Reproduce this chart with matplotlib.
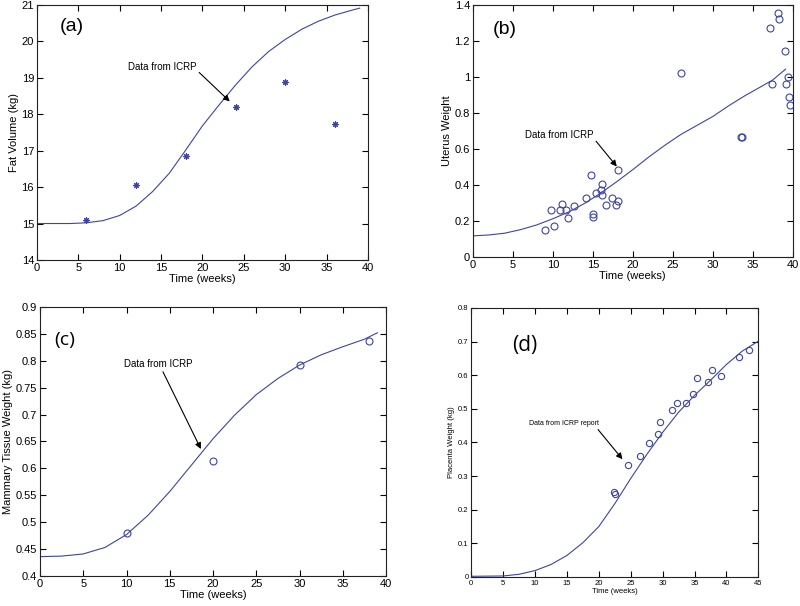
import numpy as np
import matplotlib.pyplot as plt

# ---------------- data ----------------
# (a) fat volume
fat_curve_t = [0, 2, 4, 6, 8, 10, 12, 14, 16, 18, 20, 22, 24, 26, 28, 30, 32, 34, 36, 38, 39]
fat_curve_v = [15.0, 15.0, 15.0, 15.02, 15.08, 15.22, 15.48, 15.88, 16.38, 17.02, 17.68,
               18.25, 18.8, 19.3, 19.72, 20.05, 20.33, 20.55, 20.72, 20.85, 20.91]
fat_data_t = [6, 12, 18, 24, 30, 36]
fat_data_v = [15.1, 16.07, 16.85, 18.2, 18.87, 17.72]

# (b) uterus weight
uterus_curve_t = [0, 2, 4, 6, 8, 10, 12, 14, 16, 18, 20, 22, 24, 26, 28, 30, 32, 34, 36,
                  37.5, 39.1]
uterus_curve_v = [0.117, 0.122, 0.132, 0.152, 0.178, 0.212, 0.25, 0.298, 0.355, 0.418,
                  0.485, 0.555, 0.62, 0.68, 0.73, 0.78, 0.84, 0.895, 0.945, 0.983, 1.043]
uterus_data_t = [9.0, 10.1, 9.8, 10.9, 11.1, 11.7, 11.9, 12.7, 14.1, 14.8, 15.0, 15.0,
                 15.4, 16.0, 16.1, 16.1, 16.7, 17.4, 17.9, 18.2, 18.1, 26.0, 33.5, 33.6,
                 37.1, 37.4, 38.2, 38.3, 39.0, 39.2, 39.4, 39.5, 39.7]
uterus_data_v = [0.148, 0.172, 0.259, 0.263, 0.293, 0.259, 0.217, 0.281, 0.326, 0.457,
                 0.222, 0.236, 0.354, 0.370, 0.406, 0.344, 0.289, 0.326, 0.289, 0.313,
                 0.481, 1.022, 0.667, 0.667, 1.272, 0.963, 1.357, 1.319, 1.143, 0.963,
                 0.998, 0.891, 0.844]

# (c) mammary tissue weight
mammary_curve_t = [0, 2.5, 5, 7.5, 10, 12.5, 15, 17.5, 20, 22.5, 25, 27.5, 30, 32.5, 35,
                   37.5, 39]
mammary_curve_v = [0.436, 0.437, 0.441, 0.453, 0.477, 0.513, 0.557, 0.606, 0.655, 0.699,
                   0.737, 0.767, 0.792, 0.811, 0.826, 0.84, 0.852]
mammary_data_t = [10, 20, 30, 38]
mammary_data_v = [0.479, 0.614, 0.793, 0.837]

# (d) placenta weight
placenta_curve_t = [0, 5, 7.5, 10, 12.5, 15, 17.5, 20, 22.5, 25, 27.5, 30, 32.5, 35,
                    37.5, 40, 42.5, 44.9]
placenta_curve_v = [0.002, 0.003, 0.008, 0.019, 0.037, 0.064, 0.102, 0.15, 0.218, 0.293,
                    0.364, 0.43, 0.49, 0.54, 0.585, 0.632, 0.672, 0.70]
placenta_data_t = [22.36, 22.57, 24.55, 26.4, 27.9, 29.2, 29.6, 31.5, 32.2, 33.7, 34.7,
                   35.4, 37.1, 37.8, 39.1, 41.9, 43.6]
placenta_data_v = [0.253, 0.247, 0.333, 0.36, 0.397, 0.426, 0.462, 0.496, 0.518, 0.517,
                   0.543, 0.591, 0.580, 0.614, 0.598, 0.653, 0.674]

# tick labels
x_ticks_40 = [0, 5, 10, 15, 20, 25, 30, 35, 40]
x_ticks_45 = [0, 5, 10, 15, 20, 25, 30, 35, 40, 45]
fat_yticks = [14, 15, 16, 17, 18, 19, 20, 21]
uterus_yticks = [0, 0.2, 0.4, 0.6, 0.8, 1.0, 1.2, 1.4]
uterus_ylabels = ['0', '0.2', '0.4', '0.6', '0.8', '1', '1.2', '1.4']
mammary_yticks = [0.4, 0.45, 0.5, 0.55, 0.6, 0.65, 0.7, 0.75, 0.8, 0.85, 0.9]
mammary_ylabels = ['0.4', '0.45', '0.5', '0.55', '0.6', '0.65', '0.7', '0.75', '0.8',
                   '0.85', '0.9']
placenta_yticks = [0, 0.1, 0.2, 0.3, 0.4, 0.5, 0.6, 0.7, 0.8]
placenta_ylabels = ['0', '0.1', '0.2', '0.3', '0.4', '0.5', '0.6', '0.7', '0.8']

BLUE = '#3d44a6'
plt.rcParams['font.family'] = ['Liberation Sans', 'DejaVu Sans']


def style_axes(ax, xticks, yticks, ylabels, xlabel, ylabel, fs=8):
    """MATLAB-like box axes with inward ticks on every side"""
    ax.set_xticks(xticks)
    ax.set_xticklabels([str(t) for t in xticks])
    ax.set_yticks(yticks)
    ax.set_yticklabels(ylabels)
    ax.set_xlim(xticks[0], xticks[-1])
    ax.set_ylim(yticks[0], yticks[-1])
    ax.tick_params(direction='in', top=True, right=True, length=4, width=0.8,
                   labelsize=fs, pad=2)
    for s in ax.spines.values():
        s.set_linewidth(0.8)
        s.set_color('#222222')
    ax.set_xlabel(xlabel, fontsize=fs, labelpad=1)
    ax.set_ylabel(ylabel, fontsize=fs, labelpad=2)


fig = plt.figure(figsize=(8, 6.06), dpi=100)
arrow = dict(arrowstyle='-|>', color='k', lw=0.8, mutation_scale=9)

# Panel (a)
ax_a = fig.add_axes([0.046, 0.571, 0.414, 0.421])
ax_a.plot(fat_curve_t, fat_curve_v, color=BLUE, lw=0.8)
ax_a.plot(fat_data_t, fat_data_v, linestyle='none', marker=(8, 2, 0), ms=4.5, mew=0.8,
          color=BLUE)
style_axes(ax_a, x_ticks_40, fat_yticks, [str(t) for t in fat_yticks],
           'Time (weeks)', 'Fat Volume (kg)')
ax_a.text(0.07, 0.914, '(a)', transform=ax_a.transAxes, fontsize=14, va='center')
ax_a.annotate('Data from ICRP', xy=(23.3, 18.35), xytext=(11.0, 19.3), fontsize=7,
              va='center', arrowprops=dict(arrow, shrinkA=0, shrinkB=0,
                                           relpos=(1.0, 0.2)))

# Panel (b)
ax_b = fig.add_axes([0.591, 0.576, 0.40, 0.416])
ax_b.plot(uterus_curve_t, uterus_curve_v, color=BLUE, lw=0.8)
ax_b.plot(uterus_data_t, uterus_data_v, 'o', mfc='none', ms=5, mew=0.8, color=BLUE)
style_axes(ax_b, x_ticks_40, uterus_yticks, uterus_ylabels, 'Time (weeks)', 'Uterus Weight')
ax_b.text(0.062, 0.903, '(b)', transform=ax_b.transAxes, fontsize=14, va='center')
ax_b.annotate('Data from ICRP', xy=(18.0, 0.502), xytext=(6.5, 0.678), fontsize=7,
              va='center', arrowprops=dict(arrow, shrinkA=0, shrinkB=0,
                                           relpos=(1.0, 0.2)))

# Panel (c)
ax_c = fig.add_axes([0.05, 0.0495, 0.4325, 0.444])
ax_c.plot(mammary_curve_t, mammary_curve_v, color=BLUE, lw=0.8)
ax_c.plot(mammary_data_t, mammary_data_v, 'o', mfc='none', ms=5, mew=0.8, color=BLUE)
style_axes(ax_c, x_ticks_40, mammary_yticks, mammary_ylabels, 'Time (weeks)',
           'Mammary Tissue Weight (kg)')
ax_c.text(0.04, 0.877, '(c)', transform=ax_c.transAxes, fontsize=14, va='center',
          family=['Open Sans', 'DejaVu Sans'])
ax_c.annotate('Data from ICRP', xy=(18.6, 0.636), xytext=(9.7, 0.794), fontsize=7,
              va='center', arrowprops=dict(arrow, shrinkA=0, shrinkB=0,
                                           relpos=(0.55, 0.0)))

# Panel (d)
ax_d = fig.add_axes([0.589, 0.0479, 0.359, 0.444])
ax_d.plot(placenta_curve_t, placenta_curve_v, color=BLUE, lw=0.8)
ax_d.plot(placenta_data_t, placenta_data_v, 'o', mfc='none', ms=4.5, mew=0.8, color=BLUE)
style_axes(ax_d, x_ticks_45, placenta_yticks, placenta_ylabels, 'Time (weeks)',
           'Placenta Weight (kg)', fs=5.5)
ax_d.text(0.142, 0.862, '(d)', transform=ax_d.transAxes, fontsize=15, va='center',
          family=['Open Sans', 'DejaVu Sans'])
ax_d.annotate('Data from ICRP report', xy=(23.7, 0.35), xytext=(9.1, 0.457), fontsize=5,
              va='center', arrowprops=dict(arrow, shrinkA=0, shrinkB=0,
                                           relpos=(0.95, 0.0)))

plt.savefig('out.png', dpi=100)
